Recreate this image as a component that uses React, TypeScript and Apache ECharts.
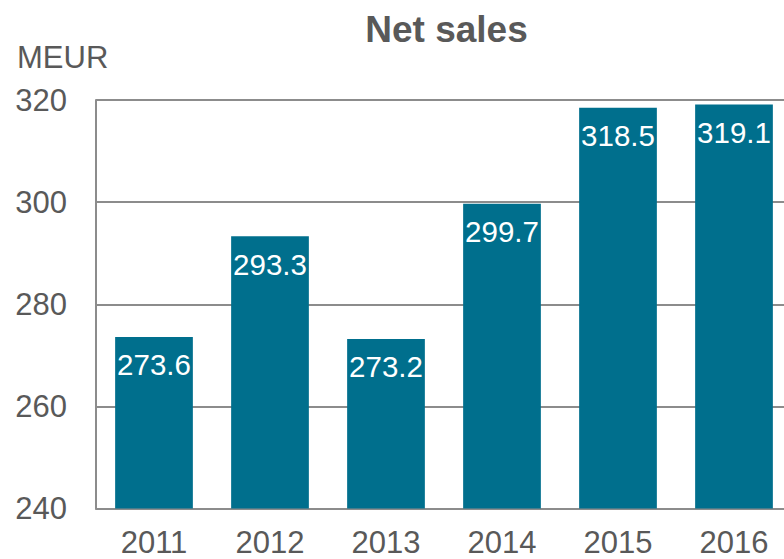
import React, { useEffect, useRef } from "react";
import * as echarts from "echarts";

const categories = ["2011", "2012", "2013", "2014", "2015", "2016"];
const netSales = [273.6, 293.3, 273.2, 299.7, 318.5, 319.1];
const titleText = "Net sales";
const unitText = "MEUR";

const FONT = "'Liberation Sans', Arial, sans-serif";
const GRAY = "#595959";
const LINE = "#8c8c8c";

export default function App() {
  const ref = useRef<HTMLDivElement>(null);
  useEffect(() => {
    if (!ref.current) return;
    const chart = echarts.init(ref.current, null, { renderer: "svg" });
    chart.setOption({
      animation: false,
      backgroundColor: "#ffffff",
      graphic: [
        {
          type: "text",
          x: 446.5,
          y: 29,
          style: {
            text: titleText,
            font: `bold 37px ${FONT}`,
            fill: GRAY,
            verticalAlign: "middle",
            align: "center",
          },
        },
        {
          type: "text",
          x: 17,
          y: 57,
          style: {
            text: unitText,
            font: `31px ${FONT}`,
            fill: GRAY,
            verticalAlign: "middle",
            align: "left",
          },
        },
      ],
      grid: { left: 96, right: 8, top: 100, bottom: 50.5, containLabel: false },
      xAxis: {
        type: "category",
        data: categories,
        axisLine: { show: true, lineStyle: { color: LINE, width: 2 } },
        axisTick: { show: false },
        axisLabel: {
          fontFamily: FONT,
          fontSize: 31,
          lineHeight: 28,
          color: GRAY,
          margin: 20,
        },
      },
      yAxis: {
        type: "value",
        min: 240,
        max: 320,
        interval: 20,
        axisLine: { show: true, lineStyle: { color: LINE, width: 2 } },
        axisTick: { show: false },
        axisLabel: { fontFamily: FONT, fontSize: 31, color: GRAY, margin: 29 },
        splitLine: { show: true, lineStyle: { color: LINE, width: 2 } },
      },
      series: [
        {
          type: "bar",
          data: netSales,
          barCategoryGap: "33%",
          itemStyle: { color: "#006F8D" },
          label: {
            show: true,
            position: "insideTop",
            distance: 13,
            fontFamily: FONT,
            fontSize: 29.5,
            color: "#ffffff",
            formatter: (p: any) => p.value.toFixed(1),
          },
        },
      ],
    });
    return () => chart.dispose();
  }, []);
  return (
    <div
      style={{
        position: "absolute",
        left: 0,
        top: 0,
        width: 784,
        height: 559,
        overflow: "hidden",
      }}
    >
      <div ref={ref} style={{ width: 800, height: 559 }} />
    </div>
  );
}
